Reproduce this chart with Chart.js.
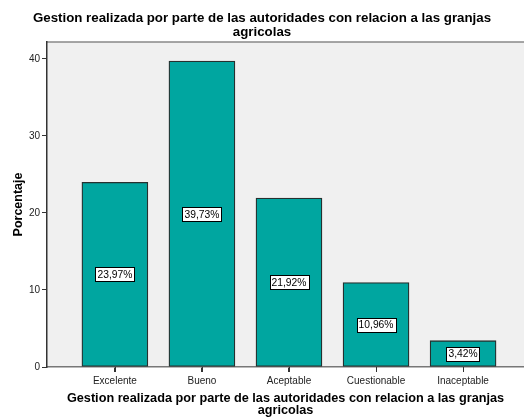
<!DOCTYPE html>
<html>
<head>
<meta charset="utf-8">
<script src="https://cdn.jsdelivr.net/npm/chart.js@4"></script>
<style>
html,body{margin:0;padding:0;background:#fff;overflow:hidden;}
#wrap{width:524px;height:417px;position:relative;}
</style>
</head>
<body>
<div id="wrap"><canvas id="c" width="524" height="417"></canvas></div>
<script>
const categories = ["Excelente", "Bueno", "Aceptable", "Cuestionable", "Inaceptable"];
const values = [23.97, 39.73, 21.92, 10.96, 3.42];
const valueLabels = ["23,97%", "39,73%", "21,92%", "10,96%", "3,42%"];
const yTicks = [0, 10, 20, 30, 40];
const titleLines = ["Gestion realizada por parte de las autoridades con relacion a las granjas", "agricolas"];
const yTitle = "Porcentaje";

const FONT = "Arial, 'Liberation Sans', sans-serif";

const bgPlugin = {
  id: 'bg',
  beforeDraw(chart) {
    const {ctx, chartArea: a} = chart;
    ctx.save();
    ctx.fillStyle = '#f0f0f0';
    ctx.fillRect(a.left, a.top, a.right - a.left, a.bottom - a.top);
    ctx.strokeStyle = '#888888';
    ctx.lineWidth = 1.5;
    ctx.beginPath();
    ctx.moveTo(a.left, a.top);
    ctx.lineTo(a.right, a.top);
    ctx.stroke();
    ctx.restore();
  },
  afterDraw(chart) {
    const {ctx, chartArea: a} = chart;
    const xs = chart.scales.x;
    ctx.save();
    ctx.strokeStyle = '#333333';
    ctx.lineWidth = 1;
    categories.forEach((c, i) => {
      const px = Math.round(xs.getPixelForValue(i)) + 0.5;
      ctx.beginPath();
      ctx.moveTo(px, a.bottom);
      ctx.lineTo(px, a.bottom + 5);
      ctx.stroke();
    });
    ctx.restore();
  }
};

const labelPlugin = {
  id: 'boxLabels',
  afterDatasetsDraw(chart) {
    const {ctx} = chart;
    const meta = chart.getDatasetMeta(0);
    ctx.save();
    ctx.font = "10.3px " + FONT;
    ctx.textAlign = 'center';
    ctx.textBaseline = 'middle';
    meta.data.forEach((bar, i) => {
      const cx = bar.x;
      const cy = (bar.y + bar.base) / 2;
      const t = valueLabels[i];
      const w = ctx.measureText(t).width + 4;
      const h = 14;
      ctx.fillStyle = '#ffffff';
      ctx.fillRect(Math.round(cx - w / 2) + 0.5, Math.round(cy - h / 2) + 0.5, Math.round(w), h);
      ctx.strokeStyle = '#000000';
      ctx.lineWidth = 1;
      ctx.strokeRect(Math.round(cx - w / 2) + 0.5, Math.round(cy - h / 2) + 0.5, Math.round(w), h);
      ctx.fillStyle = '#000000';
      ctx.fillText(t, cx, cy + 1);
    });
    ctx.restore();
  }
};

new Chart(document.getElementById('c'), {
  type: 'bar',
  data: {
    datasets: [{
      data: values.map((v, i) => ({x: i, y: v})),
      backgroundColor: '#00a6a0',
      borderColor: '#26302f',
      borderWidth: 1.3,
      borderSkipped: false,
      barThickness: 66
    }]
  },
  options: {
    responsive: false,
    animation: false,
    devicePixelRatio: 1,
    layout: {padding: {left: 0, right: 0, top: 0, bottom: 0}},
    plugins: {
      legend: {display: false},
      tooltip: {enabled: false},
      title: {
        display: true,
        text: titleLines,
        color: '#000',
        font: {family: FONT, size: 13.3, weight: 'bold', lineHeight: 1.05},
        padding: {top: 11, bottom: 3}
      }
    },
    scales: {
      x: {
        type: 'linear',
        offset: false,
        min: -0.78,
        max: 4.70,
        afterBuildTicks(scale) { scale.ticks = categories.map((c, i) => ({value: i})); },
        afterFit(scale) { scale.height = 50; },
        ticks: {
          autoSkip: false,
          maxRotation: 0,
          color: '#222',
          padding: 3,
          font: {family: FONT, size: 10},
          callback: (v) => categories[v]
        },
        grid: {display: true, offset: false, drawOnChartArea: false, drawTicks: true, tickLength: 5, tickColor: '#333', tickWidth: 1},
        border: {display: true, color: '#777', width: 1.5},
        title: {
          display: true,
          text: titleLines,
          color: '#000',
          font: {family: FONT, size: 12.7, weight: 'bold', lineHeight: 0.95},
          padding: {top: 4, bottom: 0}
        }
      },
      y: {
        min: 0,
        max: 42.2,
        afterBuildTicks(scale) { scale.ticks = yTicks.map(v => ({value: v})); },
        afterFit(scale) { scale.width = 47; },
        ticks: {
          color: '#222',
          padding: 2,
          font: {family: FONT, size: 10}
        },
        grid: {display: true, offset: false, drawOnChartArea: false, drawTicks: true, tickLength: 5, tickColor: '#333', tickWidth: 1},
        border: {display: true, color: '#333', width: 1.5},
        title: {
          display: true,
          text: yTitle,
          color: '#000',
          font: {family: FONT, size: 12.5, weight: 'bold'},
          padding: {top: 11, bottom: 0}
        }
      }
    }
  },
  plugins: [bgPlugin, labelPlugin]
});
</script>
</body>
</html>
